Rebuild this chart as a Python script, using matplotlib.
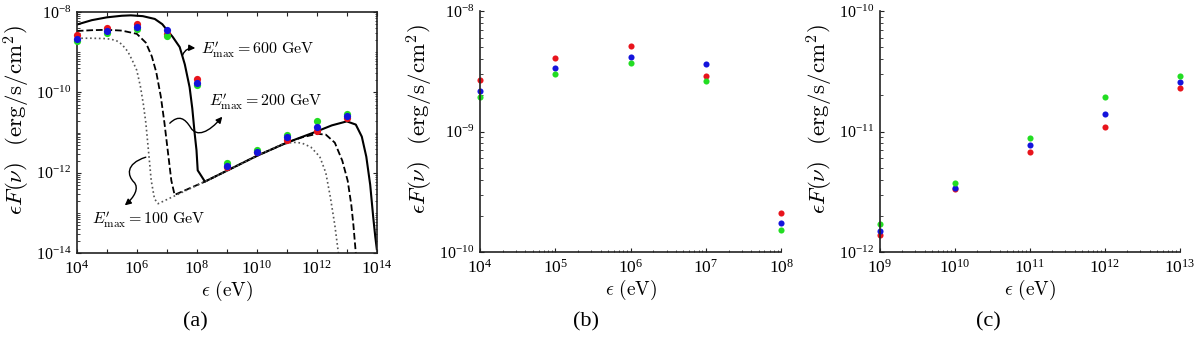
import numpy as np
import matplotlib
matplotlib.use("Agg")
import matplotlib.pyplot as plt
from matplotlib.path import Path
from matplotlib.patches import FancyArrowPatch
from matplotlib.ticker import FixedLocator, LogLocator, NullFormatter, LogFormatterSciNotation

plt.rcParams['font.family'] = ['Liberation Serif', 'DejaVu Serif']
plt.rcParams['mathtext.fontset'] = 'cm'

# energies of the data points (eV)
e_low = np.array([1e4, 1e5, 1e6, 1e7, 1e8])
e_high = np.array([1e9, 1e10, 1e11, 1e12, 1e13])

# flux values (b) and (c)
red_low = np.array([2.69e-9, 4.10e-9, 5.12e-9, 2.92e-9, 2.13e-10])
blue_low = np.array([2.18e-9, 3.34e-9, 4.15e-9, 3.61e-9, 1.75e-10])
green_low = np.array([1.93e-9, 2.98e-9, 3.70e-9, 2.61e-9, 1.53e-10])

red_high = np.array([1.38e-12, 3.35e-12, 6.71e-12, 1.10e-11, 2.28e-11])
blue_high = np.array([1.50e-12, 3.38e-12, 7.68e-12, 1.39e-11, 2.58e-11])
green_high = np.array([1.72e-12, 3.71e-12, 8.83e-12, 1.93e-11, 2.87e-11])

# model curves, log10(eV) and log10(flux)
logx_600 = [4.0, 4.5, 5.0, 5.5, 5.8, 6.2, 6.6, 6.85, 7.0, 7.2, 7.43, 7.6, 7.76, 7.85, 7.93,
            7.99, 8.03, 8.1, 8.27, 9.0, 10.0, 11.0, 12.0, 12.5, 13.0, 13.3, 13.5, 13.65,
            13.78, 13.88, 13.95, 14.0]
logy_600 = [-8.31, -8.2, -8.13, -8.09, -8.08, -8.1, -8.17, -8.3, -8.44, -8.62, -8.87, -9.3,
            -9.87, -10.4, -11.03, -11.44, -11.94, -12.02, -12.22, -11.95, -11.58, -11.25,
            -10.97, -10.82, -10.72, -10.8, -11.1, -11.6, -12.3, -13.1, -13.6, -13.9]

logx_200 = [4.0, 4.5, 5.0, 5.5, 6.0, 6.3, 6.5, 6.65, 6.8, 6.92, 7.0, 7.08, 7.15, 7.26, 8.27,
            9.0, 10.0, 11.0, 11.5, 12.0, 12.3, 12.6, 12.85, 13.03, 13.15, 13.22, 13.3]
logy_200 = [-8.47, -8.45, -8.44, -8.46, -8.54, -8.76, -9.1, -9.5, -10.1, -10.75, -11.25,
            -11.75, -12.19, -12.55, -12.22, -11.95, -11.58, -11.25, -11.12, -11.03, -11.05,
            -11.25, -11.7, -12.2, -12.8, -13.3, -14.0]

logx_100 = [4.0, 4.5, 5.0, 5.3, 5.5, 5.7, 5.85, 6.0, 6.12, 6.22, 6.3, 6.37, 6.42, 6.48, 6.59,
            6.71, 8.27, 9.0, 10.0, 10.8, 11.2, 11.5, 11.8, 12.1, 12.3, 12.45, 12.6, 12.72]
logy_100 = [-8.65, -8.65, -8.66, -8.7, -8.8, -8.98, -9.2, -9.45, -9.85, -10.3, -10.75,
            -11.3, -11.7, -12.19, -12.65, -12.77, -12.22, -11.95, -11.58, -11.3, -11.24,
            -11.26, -11.36, -11.6, -12.0, -12.6, -13.3, -14.0]

RED, BLUE, GREEN = '#e8141c', '#1414dc', '#22dd22'

fig = plt.figure(figsize=(12, 3.37), dpi=100)
ax_a = fig.add_axes([0.064, 0.249, 0.25, 0.715])
ax_b = fig.add_axes([0.400, 0.252, 0.251, 0.715])
ax_c = fig.add_axes([0.733, 0.252, 0.250, 0.715])


def style(ax, box):
    ax.set_xscale('log')
    ax.set_yscale('log')
    for s in ax.spines.values():
        s.set_linewidth(1.2)
        s.set_color('#222222')
    if not box:
        ax.spines['top'].set_visible(False)
        ax.spines['right'].set_visible(False)
    ax.tick_params(which='both', direction='in', top=box, right=box, color='#222222')
    ax.tick_params(which='major', length=3)
    ax.tick_params(which='minor', length=1.8)
    ax.tick_params(axis='x', labelsize=12.5, pad=5)
    ax.tick_params(axis='y', labelsize=11.5, pad=4)
    ax.set_xlabel(r'$\epsilon\ (\mathrm{eV})$', fontsize=14, labelpad=1)
    ax.set_ylabel(r'$\epsilon F(\nu)\;\;\; (\mathrm{erg/s/cm^2})$', fontsize=16.5)
    ax.yaxis.set_label_coords(-0.15, 0.55)


# ---- panel (a)
ax = ax_a
style(ax, True)
ax.plot(10 ** np.array(logx_600), 10 ** np.array(logy_600), '-', color='black', lw=1.5)
ax.plot(10 ** np.array(logx_200), 10 ** np.array(logy_200), '--', color='black', lw=1.3)
ax.plot(10 ** np.array(logx_100), 10 ** np.array(logy_100), ':', color='#555555', lw=1.2)
for xs, r, g, b in [(e_low, red_low, green_low, blue_low), (e_high, red_high, green_high, blue_high)]:
    ax.plot(xs, r, 'o', color=RED, ms=5.2, mec='none', clip_on=False, zorder=5)
    ax.plot(xs, g, 'o', color=GREEN, ms=5.2, mec='none', clip_on=False, zorder=5)
    ax.plot(xs, b, 'o', color=BLUE, ms=5.2, mec='none', clip_on=False, zorder=5)
ax.set_xlim(1e4, 1e14)
ax.set_ylim(1e-14, 1e-8)
ax.xaxis.set_major_locator(FixedLocator([10.0 ** k for k in range(4, 15)]))
ax.xaxis.set_major_formatter(plt.FuncFormatter(
    lambda v, p: r'$\mathdefault{10^{%d}}$' % round(np.log10(v)) if round(np.log10(v)) % 2 == 0 else ''))
ax.xaxis.set_minor_locator(plt.NullLocator())
ax.yaxis.set_major_locator(FixedLocator([1e-14, 1e-12, 1e-10, 1e-8]))
ax.yaxis.set_major_formatter(LogFormatterSciNotation())
ax.yaxis.set_minor_locator(LogLocator(base=10, subs=np.arange(1, 10), numticks=30))
ax.yaxis.set_minor_formatter(NullFormatter())

txt = dict(fontsize=11.5, va='center', ha='left', transform=ax.transAxes)
ax.text(0.415, 0.845, r"$E_{\mathrm{max}}^{\prime} = 600\ \mathrm{GeV}$", **txt)
ax.text(0.44, 0.630, r"$E_{\mathrm{max}}^{\prime} = 200\ \mathrm{GeV}$", **txt)
ax.text(0.05, 0.141, r"$E_{\mathrm{max}}^{\prime} = 100\ \mathrm{GeV}$", **txt)

C4 = Path.CURVE4
arrows = [
    Path([(0.353, 0.822), (0.36, 0.845), (0.375, 0.852), (0.395, 0.851)], [Path.MOVETO, C4, C4, C4]),
    Path([(0.31, 0.539), (0.34, 0.575), (0.36, 0.56), (0.38, 0.52),
          (0.40, 0.48), (0.44, 0.50), (0.485, 0.566)],
         [Path.MOVETO, C4, C4, C4, C4, C4, C4]),
    Path([(0.23, 0.398), (0.16, 0.37), (0.17, 0.32), (0.19, 0.295),
          (0.21, 0.27), (0.19, 0.23), (0.16, 0.198)],
         [Path.MOVETO, C4, C4, C4, C4, C4, C4]),
]
for p in arrows:
    ax.add_patch(FancyArrowPatch(path=p, arrowstyle='-|>', mutation_scale=9, lw=1.0,
                                 color='black', transform=ax.transAxes, zorder=6))

# ---- panel (b)
ax = ax_b
style(ax, False)
ax.plot(e_low, red_low, 'o', color=RED, ms=4.4, mec='none', clip_on=False)
ax.plot(e_low, blue_low, 'o', color=BLUE, ms=4.4, mec='none', clip_on=False)
ax.plot(e_low, green_low, 'o', color=GREEN, ms=4.4, mec='none', clip_on=False)
ax.set_xlim(1e4, 1e8)
ax.set_ylim(1e-10, 1e-8)

# ---- panel (c)
ax = ax_c
style(ax, False)
ax.plot(e_high, red_high, 'o', color=RED, ms=4.4, mec='none', clip_on=False)
ax.plot(e_high, blue_high, 'o', color=BLUE, ms=4.4, mec='none', clip_on=False)
ax.plot(e_high, green_high, 'o', color=GREEN, ms=4.4, mec='none', clip_on=False)
ax.set_xlim(1e9, 1e13)
ax.set_ylim(1e-12, 1e-10)

for ax in (ax_b, ax_c):
    ax.xaxis.set_minor_locator(LogLocator(base=10, subs=np.arange(2, 10), numticks=30))
    ax.yaxis.set_minor_locator(LogLocator(base=10, subs=np.arange(2, 10), numticks=30))
    ax.xaxis.set_minor_formatter(NullFormatter())
    ax.yaxis.set_minor_formatter(NullFormatter())

for lab, xc in [('(a)', 195), ('(b)', 586), ('(c)', 988)]:
    fig.text(xc / 1200, 1 - 322 / 337, lab, fontsize=16, ha='center', va='center')

fig.savefig('out.png', dpi=100)
